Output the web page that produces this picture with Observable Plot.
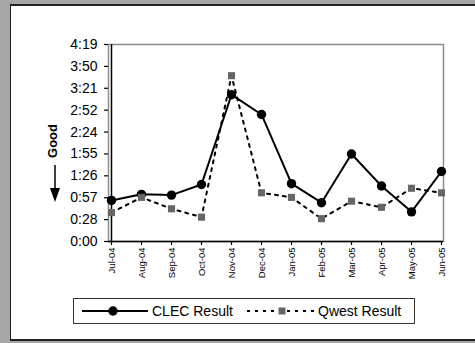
<!DOCTYPE html>
<html><head><meta charset="utf-8">
<script src="https://cdn.jsdelivr.net/npm/d3@7"></script>
<script src="https://cdn.jsdelivr.net/npm/@observablehq/plot@0.6"></script>
<style>
body{margin:0;width:475px;height:343px;background:#a6a6a6;position:relative;overflow:hidden;font-family:"Liberation Sans",Arial,sans-serif}
#panel{position:absolute;left:10px;top:4px;width:465px;height:337px;box-sizing:border-box;background:#fff;border-left:1px solid #222;border-top:2px solid #222;border-bottom:2px solid #222}
#chart{position:absolute;left:0;top:0}
#good{position:absolute;left:40px;top:120px}
#leg{position:absolute;left:73px;top:298px}
</style></head>
<body>
<div id="panel"></div>
<div id="chart"></div>
<svg id="good" width="25" height="90" font-family="Liberation Sans, Arial, sans-serif">
  <text transform="translate(12,21) rotate(-90)" text-anchor="middle" dominant-baseline="central" font-size="13" font-weight="bold">Good</text>
  <line x1="15" x2="15" y1="45" y2="70" stroke="#000" stroke-width="1.5"></line>
  <polygon points="10,68 20,68 15,82" fill="#000"></polygon>
</svg>
<svg id="leg" width="343" height="27" font-family="Liberation Sans, Arial, sans-serif">
  <rect x="0.5" y="0.5" width="341" height="25" fill="#fff" stroke="#333"></rect>
  <line x1="9" x2="75" y1="13" y2="13" stroke="#000" stroke-width="2"></line>
  <circle cx="40" cy="13" r="4.7" fill="#000"></circle>
  <text x="79" y="18" font-size="14">CLEC Result</text>
  <line x1="174" x2="244" y1="13" y2="13" stroke="#000" stroke-width="2" stroke-dasharray="3,5"></line>
  <rect x="205.5" y="9.5" width="7" height="7" fill="#666"></rect>
  <text x="245" y="18" font-size="14">Qwest Result</text>
</svg>
<script>
const months = ["Jul-04","Aug-04","Sep-04","Oct-04","Nov-04","Dec-04","Jan-05","Feb-05","Mar-05","Apr-05","May-05","Jun-05"];
// values in seconds
const clecSeconds = [54, 62, 61, 75, 193, 167, 76, 51, 115, 73, 39, 92];
const qwestSeconds = [38, 58, 43, 32, 218, 64, 58, 30, 53, 45, 70, 64];
const yTickLabels = ["0:00","0:28","0:57","1:26","1:55","2:24","2:52","3:21","3:50","4:19"];
const yMaxSeconds = 259;

const yTicks = yTickLabels.map((_, i) => i * yMaxSeconds / (yTickLabels.length - 1));
const clec = months.map((m, i) => ({month: m, v: clecSeconds[i]}));
const qwest = months.map((m, i) => ({month: m, v: qwestSeconds[i]}));

const chart = Plot.plot({
  width: 475, height: 290,
  marginLeft: 108, marginRight: 32, marginTop: 44, marginBottom: 49,
  style: {fontFamily: "Liberation Sans, Arial, sans-serif", background: "transparent", overflow: "visible", color: "#000"},
  x: {type: "point", domain: months, padding: 0, label: null},
  y: {domain: [0, yMaxSeconds], label: null},
  marks: [
    Plot.frame({stroke: "#8c8c8c", strokeWidth: 1.5}),
    Plot.axisY({ticks: yTicks, tickFormat: d => yTickLabels[yTicks.indexOf(d)], tickSize: 4, tickPadding: 7, fontSize: 14, strokeWidth: 1.2, label: null}),
    Plot.axisX({tickRotate: -90, tickSize: 4, tickPadding: 2, fontSize: 9.5, strokeWidth: 1.2, label: null}),
    Plot.ruleY([0], {stroke: "#000", strokeWidth: 1.5}),
    Plot.ruleX([months[0]], {stroke: "#000", strokeWidth: 1.5}),
    Plot.line(clec, {x: "month", y: "v", stroke: "#000", strokeWidth: 2}),
    Plot.dot(clec, {x: "month", y: "v", r: 4.7, fill: "#000"}),
    Plot.line(qwest, {x: "month", y: "v", stroke: "#000", strokeWidth: 2, strokeDasharray: "3,5"}),
    Plot.dot(qwest, {x: "month", y: "v", symbol: "square", r: 4, fill: "#666"})
  ]
});
document.getElementById("chart").appendChild(chart);
</script>
</body></html>
